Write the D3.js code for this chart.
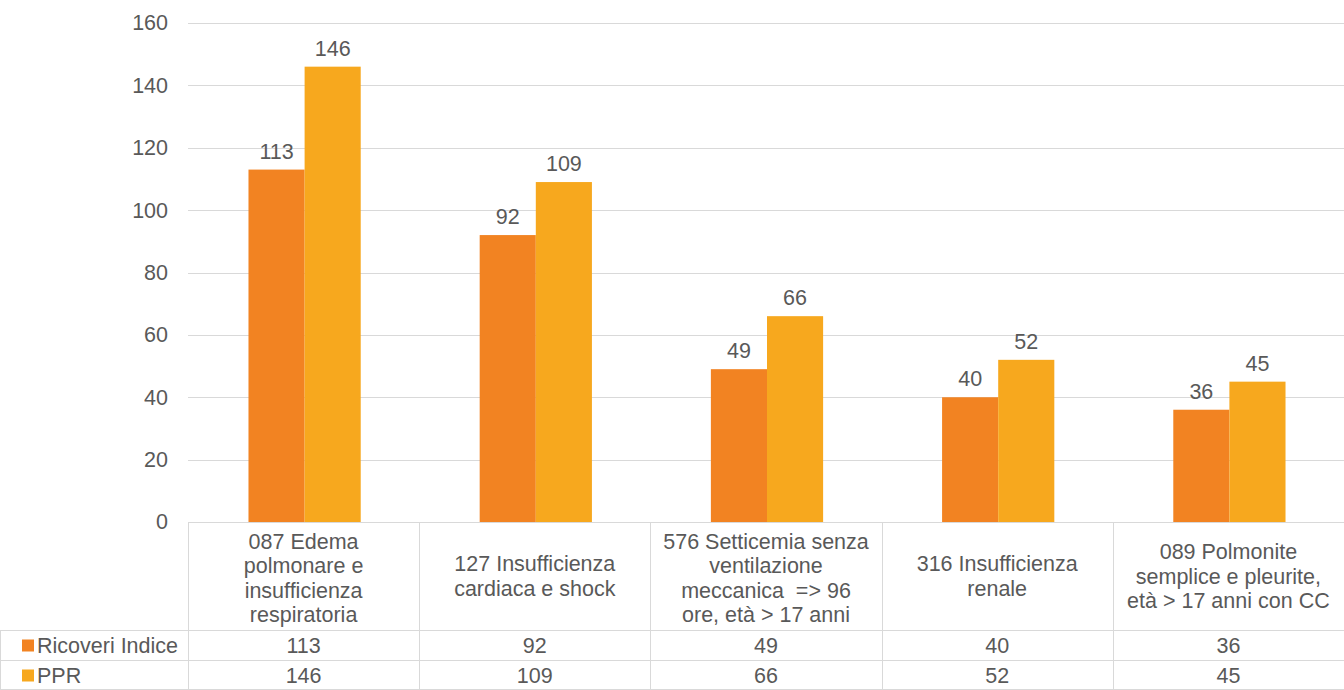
<!DOCTYPE html>
<html>
<head>
<meta charset="utf-8">
<script src="https://cdn.jsdelivr.net/npm/d3@7"></script>
<style>
html,body{margin:0;padding:0;background:#fff;}
svg{display:block;font-family:"Liberation Sans",Arial,sans-serif;}
text{white-space:pre;}
</style>
</head>
<body>
<svg id="chart" width="1344" height="690"></svg>
<script>
const categories = [
  ["087 Edema","polmonare e","insufficienza","respiratoria"],
  ["127 Insufficienza","cardiaca e shock"],
  ["576 Setticemia senza","ventilazione","meccanica  => 96","ore, età > 17 anni"],
  ["316 Insufficienza","renale"],
  ["089 Polmonite","semplice e pleurite,","età > 17 anni con CC"]
];
const seriesNames = ["Ricoveri Indice","PPR"];
const ricoveriIndice = [113, 92, 49, 40, 36];
const ppr = [146, 109, 66, 52, 45];
const seriesColors = ["#F28322","#F7A81E"];
const yTicks = [0,20,40,60,80,100,120,140,160];

(function(){
const svg = d3.select("#chart");
const pLeft = 188, pRight = 1344, pTop = 23, pBottom = 522;
const headerBottom = 630, row1Bottom = 660, row2Bottom = 690;
const textColor = "#595959", gridColor = "#d9d9d9";
const fs = 21.5;
const fontFam = "Liberation Sans, Arial, sans-serif";

const seriesValues = [ricoveriIndice, ppr];
const idx = d3.range(categories.length);

const x0 = d3.scaleBand().domain(idx).range([pLeft, pRight]).padding(0);
const x1 = d3.scaleBand().domain([0,1]).range([0, x0.bandwidth()]).paddingInner(0).paddingOuter(1.06);
const y = d3.scaleLinear().domain([0,160]).range([pBottom, pTop]);

// gridlines
svg.append("g").selectAll("line").data(yTicks.filter(t=>t>0)).join("line")
  .attr("x1", pLeft).attr("x2", pRight)
  .attr("y1", d=>Math.round(y(d))+0.5).attr("y2", d=>Math.round(y(d))+0.5)
  .attr("stroke", gridColor).attr("stroke-width", 1);

// y axis labels
const yAxis = d3.axisLeft(y).tickValues(yTicks).tickSize(0).tickPadding(0);
const ya = svg.append("g").attr("transform", `translate(${pLeft-20},0)`).call(yAxis);
ya.select(".domain").remove();
ya.selectAll("text").attr("fill", textColor).style("font-size", fs+"px").style("font-family", fontFam);

// bars
const groups = svg.append("g").selectAll("g").data(idx).join("g")
  .attr("transform", i=>`translate(${x0(i)+1},0)`);
groups.selectAll("rect").data(i=>[0,1].map(s=>({s, v:seriesValues[s][i]}))).join("rect")
  .attr("x", d=>x1(d.s)).attr("width", x1.bandwidth())
  .attr("y", d=>y(d.v)).attr("height", d=>y(0)-y(d.v))
  .attr("fill", d=>seriesColors[d.s]);
groups.selectAll("text.val").data(i=>[0,1].map(s=>({s, v:seriesValues[s][i]}))).join("text")
  .attr("class","val")
  .attr("x", d=>x1(d.s)+x1.bandwidth()/2)
  .attr("y", d=>y(d.v)-11)
  .attr("text-anchor","middle")
  .attr("fill", textColor).style("font-size", fs+"px")
  .text(d=>d.v);

// table lines
const tbl = svg.append("g").attr("stroke", gridColor).attr("stroke-width",1);
tbl.append("line").attr("x1", pLeft).attr("x2", pRight).attr("y1", pBottom+0.5).attr("y2", pBottom+0.5);
[headerBottom, row1Bottom].forEach(yy=>{
  tbl.append("line").attr("x1", 0).attr("x2", pRight).attr("y1", yy+0.5).attr("y2", yy+0.5);
});
tbl.append("line").attr("x1", 0).attr("x2", pRight).attr("y1", row2Bottom-0.5).attr("y2", row2Bottom-0.5);
idx.forEach(i=>{
  const xx = Math.round(x0(i))+0.5;
  tbl.append("line").attr("x1", xx).attr("x2", xx).attr("y1", pBottom).attr("y2", row2Bottom);
});
tbl.append("line").attr("x1", 0.5).attr("x2", 0.5).attr("y1", headerBottom).attr("y2", row2Bottom);

// header category text
const hdr = svg.append("g");
const lineH = 24.5;
idx.forEach(i=>{
  const lines = categories[i];
  const cx = x0(i) + x0.bandwidth()/2;
  const cy = lines.length > 3 ? 578 : 576;
  const startY = cy - (lines.length-1)*lineH/2 + 7.7;
  hdr.append("text").attr("text-anchor","middle").attr("fill", textColor).style("font-size", fs+"px")
    .selectAll("tspan").data(lines).join("tspan")
    .attr("x", cx).attr("y", (d,k)=>startY + k*lineH)
    .text(d=>d);
});

// data rows
const rowsY = [(headerBottom+row1Bottom)/2, (row1Bottom+row2Bottom)/2];
seriesNames.forEach((name, s)=>{
  const ry = rowsY[s];
  svg.append("rect").attr("x", 22).attr("y", ry-5.5).attr("width", 12).attr("height", 12).attr("fill", seriesColors[s]);
  svg.append("text").attr("x", 37).attr("y", ry+8).attr("fill", textColor).style("font-size", fs+"px").text(name);
  idx.forEach(i=>{
    svg.append("text").attr("x", x0(i)+x0.bandwidth()/2).attr("y", ry+8)
      .attr("text-anchor","middle").attr("fill", textColor).style("font-size", fs+"px")
      .text(seriesValues[s][i]);
  });
});
})();
</script>
</body>
</html>
